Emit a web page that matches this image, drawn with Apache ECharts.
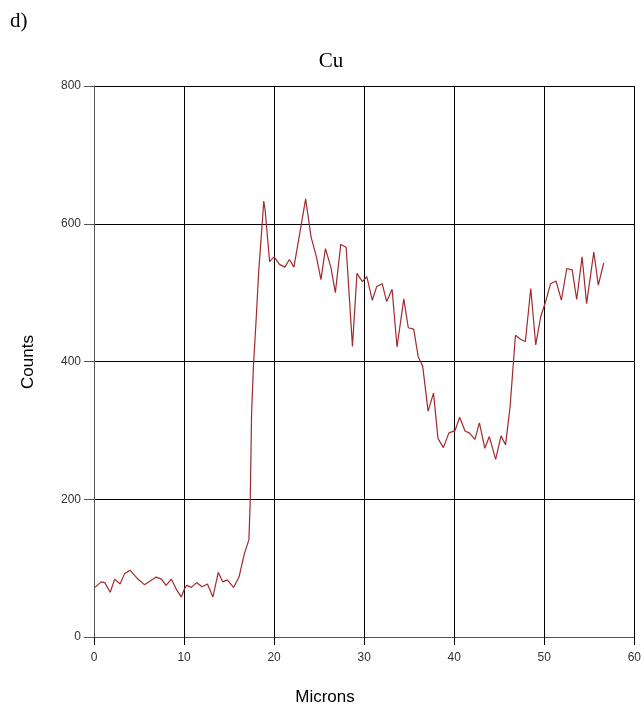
<!DOCTYPE html>
<html>
<head>
<meta charset="utf-8">
<script src="https://cdn.jsdelivr.net/npm/echarts@6/dist/echarts.min.js"></script>
<style>html,body{margin:0;padding:0;background:#fff}#c{width:644px;height:712px}</style>
</head>
<body>
<div id="c"></div>
<script>
var microns = [0.1,0.8,1.2,1.8,2.3,2.9,3.4,4.0,4.8,5.6,6.9,7.5,8.0,8.6,9.2,9.7,10.05,10.3,10.8,11.4,12.0,12.6,13.2,13.8,14.3,14.8,15.5,16.1,16.7,17.2,17.35,17.5,17.7,18.0,18.3,18.6,18.85,19.0,19.5,20.0,20.6,21.2,21.7,22.2,22.9,23.5,24.1,24.7,25.2,25.7,26.3,26.8,27.4,28.0,28.7,29.2,29.8,30.3,30.9,31.4,32.0,32.5,33.1,33.65,34.4,34.9,35.5,36.0,36.5,37.1,37.7,38.2,38.8,39.4,40.1,40.6,41.2,41.7,42.3,42.8,43.4,43.9,44.6,45.2,45.7,46.2,46.8,47.4,47.9,48.5,49.05,49.6,50.2,50.7,51.3,51.9,52.5,53.1,53.6,54.2,54.7,55.5,56.0,56.6];
var counts  = [72,80,79,65,84,77,92,97,85,76,87,84,75,84,68,58,70,75,72,79,73,77,58,94,80,83,72,87,121,141,199,325,392,460,533,586,633,620,545,552,541,537,548,537,590,636,581,552,519,564,537,500,570,566,422,528,516,523,489,509,513,487,505,421,491,449,447,407,393,328,354,288,275,296,300,319,299,296,287,311,274,291,258,292,279,334,438,432,429,506,424,465,489,513,517,489,535,533,490,552,484,559,511,543];
var xTicks = [0,10,20,30,40,50,60];
var yTicks = [0,200,400,600,800];

var chart = echarts.init(document.getElementById('c'), null, {renderer:'canvas'});
var series = microns.map(function(x,i){return [x, counts[i]];});
var tickFont = {fontFamily:'Liberation Sans', fontSize:12, color:'#333'};
chart.setOption({
  animation:false,
  backgroundColor:'#fff',
  grid:{left:94, right:7, top:86, bottom:75, containLabel:false},
  xAxis:{type:'value', min:xTicks[0], max:xTicks[xTicks.length-1], interval:10,
    axisLine:{show:true, onZero:false, lineStyle:{color:'#555', width:1}},
    axisTick:{show:true, length:8, lineStyle:{color:'#000'}},
    axisLabel:Object.assign({margin:15}, tickFont),
    splitLine:{show:true, lineStyle:{color:'#000', width:1}}},
  yAxis:{type:'value', min:yTicks[0], max:yTicks[yTicks.length-1], interval:200,
    axisLine:{show:true, onZero:false, lineStyle:{color:'#555', width:1}},
    axisTick:{show:true, length:10, lineStyle:{color:'#555'}},
    axisLabel:Object.assign({margin:13}, tickFont),
    splitLine:{show:true, lineStyle:{color:'#000', width:1}}},
  series:[{type:'line', data:series, symbol:'none', lineStyle:{color:'#a02a2e', width:1.2}, clip:false}],
  graphic:[
    {type:'text', left:10, top:11, style:{text:'d)', font:'21px "Liberation Serif"', fill:'#000'}},
    {type:'text', x:331, y:61, style:{text:'Cu', font:'21px "Liberation Serif"', fill:'#000', align:'center', verticalAlign:'middle'}},
    {type:'text', x:325, y:697, style:{text:'Microns', font:'17px "Liberation Sans"', fill:'#000', align:'center', verticalAlign:'middle'}},
    {type:'text', x:28, y:362, rotation:Math.PI/2, style:{text:'Counts', font:'17px "Liberation Sans"', fill:'#000', align:'center', verticalAlign:'middle'}}
  ]
});
</script>
</body>
</html>
